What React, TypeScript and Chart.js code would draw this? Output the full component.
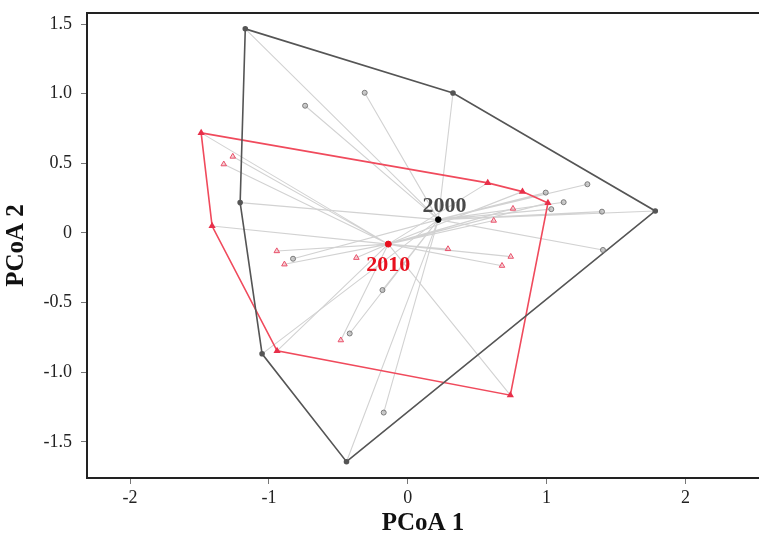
import React, { useEffect, useRef } from "react";
import { Chart, registerables } from "chart.js";

Chart.register(...registerables);

// Group 2000: convex hull vertices (in drawing order) and interior points
const hull2000: [number, number][] = [
  [-1.17, 1.466],
  [0.326, 1.005],
  [1.783, 0.158],
  [-0.441, -1.643],
  [-1.049, -0.868],
  [-1.207, 0.218],
];
const inner2000: [number, number][] = [
  [-0.739, 0.914],
  [-0.31, 1.007],
  [0.994, 0.29],
  [1.294, 0.35],
  [1.123, 0.221],
  [1.034, 0.171],
  [1.399, 0.153],
  [1.406, -0.122],
  [-0.826, -0.185],
  [-0.418, -0.722],
  [-0.182, -0.41],
  [-0.173, -1.29],
];
const centroid2000: [number, number] = [0.22, 0.096];

// Group 2010
const hull2010: [number, number][] = [
  [-1.488, 0.719],
  [0.576, 0.36],
  [0.826, 0.297],
  [1.01, 0.216],
  [0.739, -1.165],
  [-0.941, -0.847],
  [-1.409, 0.05],
];
const inner2010: [number, number][] = [
  [-1.26, 0.549],
  [-1.325, 0.494],
  [-0.943, -0.13],
  [-0.888, -0.225],
  [-0.37, -0.178],
  [-0.482, -0.77],
  [0.758, 0.175],
  [0.619, 0.089],
  [0.29, -0.115],
  [0.742, -0.17],
  [0.679, -0.235],
];
const centroid2010: [number, number] = [-0.14, -0.08];

// Group labels (text, anchor position in data units)
const groupLabels: { text: string; pos: [number, number]; color: string }[] = [
  { text: "2000", pos: [0.264, 0.194], color: "#4a4a4a" },
  { text: "2010", pos: [-0.14, -0.232], color: "#e8101e" },
];

const xTicks = [-2, -1, 0, 1, 2];
const yTicks = [-1.5, -1.0, -0.5, 0, 0.5, 1.0, 1.5];
const xRange: [number, number] = [-2.31, 2.53];
const yRange: [number, number] = [-1.76, 1.58];

const pt = (p: [number, number]) => ({ x: p[0], y: p[1] });
const gap = { x: null as any, y: null as any };
const spider = (pts: [number, number][], c: [number, number]) =>
  pts.flatMap((p) => [pt(p), pt(c), gap]);

const SERIF = "'Liberation Serif', 'Times New Roman', serif";

const frameAndLabels = {
  id: "frameAndLabels",
  afterDraw(chart: any) {
    const { ctx, chartArea, scales } = chart;
    ctx.save();
    ctx.strokeStyle = "#222";
    ctx.lineWidth = 2;
    ctx.beginPath();
    ctx.moveTo(chartArea.left - 1, chartArea.top);
    ctx.lineTo(chartArea.right, chartArea.top);
    ctx.stroke();
    ctx.font = `bold 22px ${SERIF}`;
    ctx.textAlign = "center";
    ctx.textBaseline = "middle";
    for (const l of groupLabels) {
      ctx.fillStyle = l.color;
      ctx.fillText(
        l.text,
        scales.x.getPixelForValue(l.pos[0]),
        scales.y.getPixelForValue(l.pos[1])
      );
    }
    ctx.restore();
  },
};

export default function App() {
  const ref = useRef<HTMLCanvasElement>(null);
  useEffect(() => {
    if (!ref.current) return;
    const hullGray = "#555555";
    const hullRed = "#f04a5c";
    const spiderColor = "#d2d2d2";
    const chart = new Chart(ref.current, {
      type: "scatter",
      data: {
        datasets: [
          {
            label: "centroid 2000",
            data: [pt(centroid2000)],
            pointRadius: 2.8,
            pointBackgroundColor: "#000",
            pointBorderColor: "#000",
            order: 0,
          },
          {
            label: "centroid 2010",
            data: [pt(centroid2010)],
            pointRadius: 3,
            pointBackgroundColor: "#e8101e",
            pointBorderColor: "#e8101e",
            order: 0,
          },
          {
            label: "2000 points",
            data: inner2000.map(pt),
            pointRadius: 2.5,
            pointBackgroundColor: "rgba(170,170,170,0.6)",
            pointBorderColor: "#7a7a7a",
            pointBorderWidth: 1,
            order: 1,
          },
          {
            label: "2010 points",
            data: inner2010.map(pt),
            pointStyle: "triangle",
            pointRadius: 3.2,
            pointBackgroundColor: "rgba(245,170,178,0.5)",
            pointBorderColor: "#e8506a",
            pointBorderWidth: 1,
            order: 1,
          },
          {
            label: "2000 hull",
            data: [...hull2000, hull2000[0]].map(pt),
            showLine: true,
            borderColor: hullGray,
            borderWidth: 1.6,
            pointRadius: [...hull2000.map(() => 2), 0],
            pointBackgroundColor: "#555",
            pointBorderColor: "#555",
            order: 2,
          },
          {
            label: "2010 hull",
            data: [...hull2010, hull2010[0]].map(pt),
            showLine: true,
            borderColor: hullRed,
            borderWidth: 1.6,
            pointStyle: "triangle",
            pointRadius: [...hull2010.map(() => 2.6), 0],
            pointBackgroundColor: "#e8304a",
            pointBorderColor: "#e8304a",
            order: 2,
          },
          {
            label: "2000 spider",
            data: spider([...hull2000, ...inner2000], centroid2000),
            showLine: true,
            spanGaps: false,
            borderColor: spiderColor,
            borderWidth: 1.1,
            pointRadius: 0,
            order: 3,
          },
          {
            label: "2010 spider",
            data: spider([...hull2010, ...inner2010], centroid2010),
            showLine: true,
            spanGaps: false,
            borderColor: spiderColor,
            borderWidth: 1.1,
            pointRadius: 0,
            order: 3,
          },
        ],
      },
      options: {
        animation: false,
        responsive: false,
        devicePixelRatio: 1,
        layout: { autoPadding: false, padding: { top: 13, right: 0, left: 0, bottom: 0 } },
        plugins: {
          legend: { display: false },
          tooltip: { enabled: false },
        },
        scales: {
          x: {
            type: "linear",
            min: xRange[0],
            max: xRange[1],
            afterBuildTicks: (s: any) => {
              s.ticks = xTicks.map((v) => ({ value: v }));
            },
            afterFit: (s: any) => {
              s.height = 62;
              s.paddingLeft = 0;
              s.paddingRight = 0;
            },
            grid: {
              drawOnChartArea: false,
              drawTicks: true,
              tickLength: 6,
              color: "#777",
            },
            border: { display: true, color: "#222", width: 2 },
            ticks: {
              padding: 3,
              color: "#222",
              font: { family: SERIF, size: 18 },
              callback: (v: any) => String(v),
            },
            title: {
              display: true,
              text: "PCoA 1",
              color: "#111",
              font: { family: SERIF, size: 25, weight: "bold" },
              padding: { top: 0, bottom: 1 },
            },
          },
          y: {
            type: "linear",
            min: yRange[0],
            max: yRange[1],
            afterBuildTicks: (s: any) => {
              s.ticks = yTicks.map((v) => ({ value: v }));
            },
            afterFit: (s: any) => {
              s.width = 87;
              s.paddingTop = 0;
              s.paddingBottom = 0;
            },
            grid: {
              drawOnChartArea: false,
              drawTicks: true,
              tickLength: 6,
              color: "#777",
            },
            border: { display: true, color: "#222", width: 2 },
            ticks: {
              padding: 9,
              color: "#222",
              font: { family: SERIF, size: 18 },
              callback: (v: any) => (v === 0 ? "0" : Number(v).toFixed(1)),
            },
            title: {
              display: true,
              text: "PCoA 2",
              color: "#111",
              font: { family: SERIF, size: 25, weight: "bold" },
              padding: { top: 2, bottom: 0 },
            },
          },
        },
      },
      plugins: [frameAndLabels],
    });
    return () => chart.destroy();
  }, []);
  return (
    <div style={{ position: "absolute", left: 0, top: 0, width: 759, height: 540, background: "#fff" }}>
      <canvas ref={ref} width={759} height={540} style={{ display: "block" }} />
    </div>
  );
}
